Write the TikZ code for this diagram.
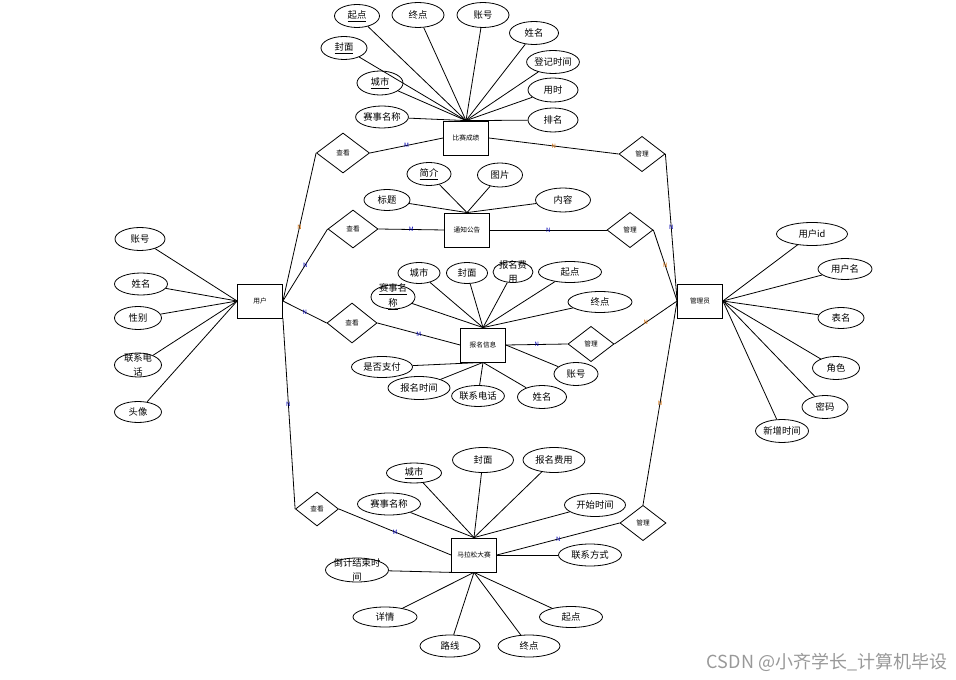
\documentclass[tikz,border=0pt]{standalone}
\usepackage{fontspec}
\newfontfamily\cjk{Noto Sans CJK SC}
\usetikzlibrary{shapes.geometric}

\begin{document}
\begin{tikzpicture}[
  x=0.75pt, y=-0.75pt,
  line width=0.6pt,
  entity/.style={rectangle,draw,minimum width=33.75pt,minimum height=25.5pt,inner sep=0pt,font=\cjk\fontsize{5}{6}\selectfont},
  rel/.style={diamond,draw,minimum width=34.5pt,minimum height=26.5pt,inner sep=0pt,font=\cjk\fontsize{5}{6}\selectfont},
  attr/.style 2 args={ellipse,draw,minimum width=#1*0.75pt,minimum height=#2*0.75pt,inner sep=0pt,font=\cjk\fontsize{7}{10}\selectfont},
  atxt/.style={font=\cjk\fontsize{7}{11}\selectfont,align=center,inner sep=0pt},
  card/.style={font=\cjk\fontsize{4.5}{5}\selectfont,inner sep=0.5pt},
  cardo/.style={card,text=orange!85!black},
  cardb/.style={card,text=blue!70!black}
]
\useasboundingbox (0,0) rectangle (956,680);

% entities
\node[entity] (user) at (260,301) {用户};
\node[entity] (admin) at (700,301) {管理员};
\node[entity] (score) at (466,138) {比赛成绩};
\node[entity] (notice) at (467,230) {通知公告};
\node[entity] (signup) at (483,345) {报名信息};
\node[entity] (race) at (474,555) {马拉松大赛};

% relations
\node[rel,minimum width=39.75pt,minimum height=30pt] (view1) at (343,153) {查看};
\node[rel,minimum width=37.5pt,minimum height=28.5pt] (view2) at (353,229) {查看};
\node[rel,minimum width=37.5pt,minimum height=30pt] (view3) at (352,323) {查看};
\node[rel,minimum width=32.25pt,minimum height=25.5pt] (view4) at (317,509) {查看};
\node[rel] (manage1) at (642,154) {管理};
\node[rel] (manage2) at (630,230) {管理};
\node[rel] (manage3) at (591,344) {管理};
\node[rel] (manage4) at (643,523) {管理};

% 比赛成绩
\node[attr={45}{23}] (s1) at (357,16) {\underline{起点}};
\node[attr={52}{25}] (s2) at (418,15) {终点};
\node[attr={52}{25}] (s3) at (483,15) {账号};
\node[attr={49}{23}] (s4) at (534,33) {姓名};
\node[attr={50}{23}] (s5) at (553,62) {登记时间};
\node[attr={50}{24}] (s6) at (553,90) {用时};
\node[attr={50}{24}] (s7) at (553,120) {排名};
\node[attr={46}{23}] (s8) at (344,48) {\underline{封面}};
\node[attr={46}{24}] (s9) at (380,83) {\underline{城市}};
\node[attr={50}{22}] (s10) at (382,117) {赛事名称};
\foreach \i in {1,...,10} \draw (s\i) -- (score.north);

% 通知公告
\node[attr={44}{23}] (n1) at (429,174) {\underline{简介}};
\node[attr={45}{24}] (n2) at (500,175) {图片};
\node[attr={46}{21}] (n3) at (387,200) {标题};
\node[attr={55}{24}] (n4) at (563,200) {内容};
\foreach \i in {1,...,4} \draw (n\i) -- (notice.north);

% 报名信息
\node[attr={42}{21}] (g1) at (419,273) {城市};
\node[attr={41}{21}] (g2) at (467,273) {封面};
\node[attr={40}{21},label={[atxt]center:报名费\\用}] (g3) at (513,272) {};
\node[attr={63}{21}] (g4) at (570,272) {起点};
\node[attr={44}{24},label={[atxt]center:\underline{赛事名}\\\underline{称}}] (g5) at (393,297) {};
\node[attr={64}{21}] (g6) at (600,302) {终点};
\node[attr={61}{21}] (g7) at (382,367) {是否支付};
\node[attr={62}{23}] (g8) at (419,388) {报名时间};
\node[attr={46}{21}] (g9) at (478,396) {联系电话};
\node[attr={49}{23}] (g10) at (542,397) {姓名};
\node[attr={44}{23}] (g11) at (576,374) {账号};
\foreach \i in {1,...,6} \draw (g\i) -- (signup.north);
\foreach \i in {7,...,10} \draw (g\i) -- (signup.south);
\draw (g11) -- (signup.east);

% 用户
\node[attr={50}{23}] (u1) at (140,239) {账号};
\node[attr={53}{22}] (u2) at (141,284) {姓名};
\node[attr={47}{23}] (u3) at (138,318) {性别};
\node[attr={47}{24},label={[atxt]center:联系电\\话}] (u4) at (138,365) {};
\node[attr={47}{21}] (u5) at (138,412) {头像};
\foreach \i in {1,...,5} \draw (u\i) -- (user.west);

% 管理员
\node[attr={71}{23}] (a1) at (812,234) {用户id};
\node[attr={54}{21}] (a2) at (845,269) {用户名};
\node[attr={46}{21}] (a3) at (841,318) {表名};
\node[attr={47}{23}] (a4) at (836,368) {角色};
\node[attr={46}{23}] (a5) at (825,407) {密码};
\node[attr={53}{23}] (a6) at (782,431) {新增时间};
\foreach \i in {1,...,6} \draw (a\i) -- (admin.east);

% 马拉松大赛
\node[attr={55}{20}] (r1) at (414,473) {\underline{城市}};
\node[attr={61}{25}] (r2) at (483,460) {封面};
\node[attr={62}{25}] (r3) at (554,460) {报名费用};
\node[attr={63}{22}] (r4) at (389,504) {赛事名称};
\node[attr={61}{23}] (r5) at (595,505) {开始时间};
\node[attr={63}{22}] (r6) at (590,555) {联系方式};
\node[attr={63}{24},label={[atxt]center:倒计结束时\\间}] (r7) at (357,570) {};
\node[attr={64}{20}] (r8) at (385,617) {详情};
\node[attr={60}{22}] (r9) at (450,646) {路线};
\node[attr={62}{22}] (r10) at (529,646) {终点};
\node[attr={63}{21}] (r11) at (571,617) {起点};
\foreach \i in {1,...,5} \draw (r\i) -- (race.north);
\draw (r6) -- (race.east);
\draw (r7) -- (race.south west);
\foreach \i in {8,...,11} \draw (r\i) -- (race.south);

% relationships
\draw (user.east) -- node[cardo]{N} (view1.west);
\draw (user.east) -- node[cardb]{N} (view2.west);
\draw (user.east) -- node[cardb]{N} (view3.west);
\draw (user.south east) -- node[cardb,pos=0.45]{N} (view4.west);
\draw (view1.east) -- node[cardb]{M} (score.west);
\draw (view2.east) -- node[cardb]{M} (notice.west);
\draw (view3.east) -- node[cardb]{M} (signup.west);
\draw (view4.east) -- node[cardb]{M} (race.west);
\draw (score.east) -- node[cardo]{N} (manage1.west);
\draw (notice.east) -- node[cardb]{N} (manage2.west);
\draw (signup.east) -- node[cardb]{N} (manage3.west);
\draw (race.east) -- node[cardb]{N} (manage4.west);
\draw (manage1.east) -- node[cardb]{N} (admin.west);
\draw (manage2.east) -- node[cardo]{N} (admin.west);
\draw (manage3.east) -- node[cardo]{N} (admin.west);
\draw (manage4.north) -- node[cardo]{N} (admin.west);

% watermark
\node[font=\cjk\fontsize{13.5}{15}\selectfont,text=black!40,anchor=east] (mark) at (952,662) {CSDN @小齐学长\_计算机毕设};
\end{tikzpicture}
\end{document}
